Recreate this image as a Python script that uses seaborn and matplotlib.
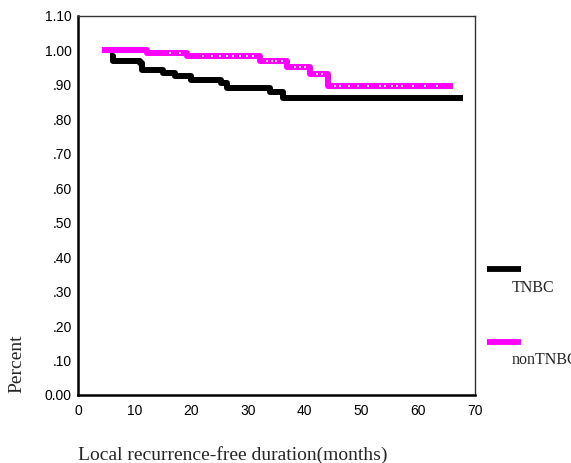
import numpy as np
import pandas as pd
import matplotlib
matplotlib.use('Agg')
import matplotlib.pyplot as plt
import seaborn as sns
from matplotlib.lines import Line2D

# ==========================================
# Data
# ==========================================
tnbc_months = [5.6, 6.1, 10.9, 11.2, 15.0, 17.1, 20.0, 25.3, 26.2, 33.9, 36.2, 67.9]
tnbc_surv = [0.985, 0.970, 0.965, 0.943, 0.935, 0.925, 0.915, 0.905, 0.890, 0.880, 0.861, 0.861]

non_months = [4.2, 12.1, 19.2, 32.1, 36.9, 40.9, 44.1, 66.1]
non_surv = [1.000, 0.992, 0.984, 0.968, 0.953, 0.932, 0.896, 0.896]

non_censor = [16.2, 18.0, 22.1, 23.6, 25.0, 26.2, 27.4, 28.6, 29.8, 30.9,
              33.3, 34.2, 35.0, 35.9, 38.3, 39.1, 40.0, 42.1, 43.0,
              45.3, 46.2, 47.7, 49.4, 51.2, 53.3, 54.1, 55.3, 56.2, 57.1,
              59.1, 61.2, 63.3]

groups = ['TNBC', 'nonTNBC']
colors = {'TNBC': 'black', 'nonTNBC': '#ff00ff'}
y_ticks = [0.0, 0.1, 0.2, 0.3, 0.4, 0.5, 0.6, 0.7, 0.8, 0.9, 1.0, 1.1]
y_labels = ['0.00', '.10', '.20', '.30', '.40', '.50', '.60', '.70', '.80', '.90', '1.00', '1.10']
x_ticks = [0, 10, 20, 30, 40, 50, 60, 70]

df = pd.concat([
    pd.DataFrame({'months': tnbc_months, 'surv': tnbc_surv, 'group': 'TNBC'}),
    pd.DataFrame({'months': non_months, 'surv': non_surv, 'group': 'nonTNBC'}),
])

# censor marks sit on the step curve
idx = np.searchsorted(non_months, non_censor, side='right') - 1
cens = pd.DataFrame({'months': non_censor, 'surv': np.array(non_surv)[idx]})

# ==========================================
# Plot
# ==========================================
sns.set_style('white')
plt.rcParams['font.family'] = ['Liberation Sans', 'DejaVu Sans']

fig = plt.figure(figsize=(5.71, 4.63), dpi=100)
ax = fig.add_axes([78 / 571, 1 - 395 / 463, 397 / 571, 379 / 463])

sns.lineplot(data=df, x='months', y='surv', hue='group', hue_order=groups,
             palette=colors, estimator=None, sort=True, drawstyle='steps-post',
             linewidth=4.3, legend=False, ax=ax, solid_capstyle='butt')
sns.scatterplot(data=cens, x='months', y='surv', color='#ffd0ff', s=1.0,
                marker='s', linewidth=0, ax=ax, zorder=5)

ax.set_xlim(0, 70)
ax.set_ylim(0, 1.1)
ax.set_xticks(x_ticks)
ax.set_yticks(y_ticks)
ax.set_yticklabels(y_labels)
ax.tick_params(axis='both', direction='out', length=2.5, width=2.2,
               labelsize=10, colors='black', pad=2)
ax.tick_params(axis='x', pad=4)
ax.set_xlabel('')
ax.set_ylabel('')

for s in ['left', 'bottom']:
    ax.spines[s].set_linewidth(1.8)
    ax.spines[s].set_color('black')
for s in ['top', 'right']:
    ax.spines[s].set_linewidth(1.0)
    ax.spines[s].set_color('#333333')

serif = ['Liberation Serif', 'DejaVu Serif']
fig.text(233 / 571, 1 - 455 / 463, 'Local recurrence-free duration(months)',
         ha='center', va='center', fontsize=14, family=serif)
fig.text(17 / 571, 1 - 364 / 463, 'Percent', ha='center', va='center',
         rotation=90, fontsize=14, family=serif)

# legend: handle above the label, outside the axes
for g, y_bar, y_txt in [('TNBC', 269, 288), ('nonTNBC', 342, 360)]:
    fig.add_artist(Line2D([487 / 571, 521 / 571], [1 - y_bar / 463] * 2,
                          color=colors[g], linewidth=4.2, solid_capstyle='butt'))
    fig.text(512 / 571, 1 - y_txt / 463, g, ha='left', va='center',
             fontsize=11.5, family=serif)

fig.savefig('out.png', dpi=100)
